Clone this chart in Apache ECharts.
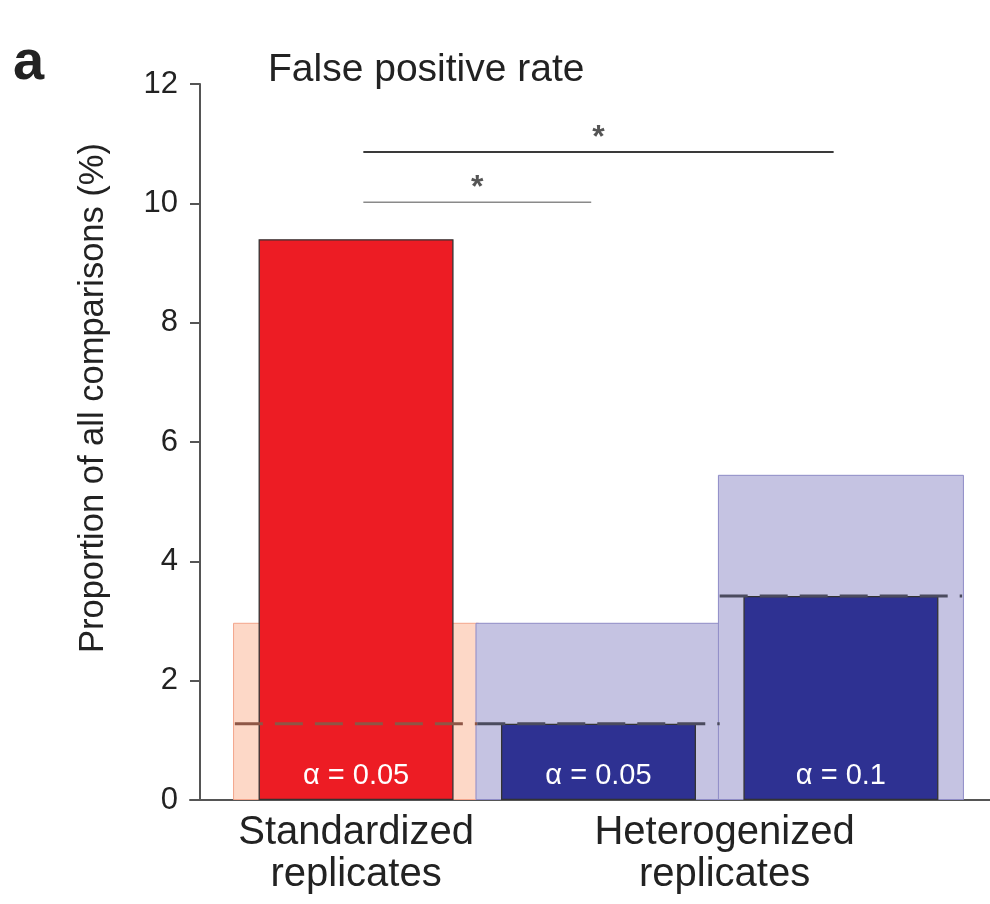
<!DOCTYPE html>
<html><head><meta charset="utf-8">
<script src="https://cdn.jsdelivr.net/npm/echarts@6/dist/echarts.min.js"></script>
<style>html,body{margin:0;padding:0;background:#fff}#c{width:990px;height:904px}</style>
</head><body><div id="c"></div>
<script>
// ---- data ----
const categoryPos = [1, 2, 3];
const observedRate = [9.4, 1.28, 3.42];
const expectedUpper = [2.97, 2.97, 5.45];
const expectedRate = [1.28, 1.28, 3.42];
const alphaLabels = ['α = 0.05', 'α = 0.05', 'α = 0.1'];
const groupLabels = ['Standardized\nreplicates', 'Heterogenized\nreplicates'];
const groupLabelPos = [1, 2.52];
const yTicks = [0, 2, 4, 6, 8, 10, 12];
const sigFrom = [1, 1];
const sigTo = [3, 2];
const sigLevel = [10.86, 10.02];
const sigMarks = ['*', '*'];

// ---- styles ----
const FONT = '"Liberation Sans", Arial, Helvetica, sans-serif';
const fgColors = ['#ED1C24', '#2E3192', '#2E3192'];
const bgColors = ['#FDD8C7', '#C5C3E2', '#C5C3E2'];
const bgBorders = ['#F3A58C', '#8E8BC6', '#8E8BC6'];
const dashColors = ['#8E5646', '#4B4B5E', '#4B4B5E'];
const sigColors = ['#3a3a3a', '#8a8a8a'];
const sigWidths = [2, 1.5];

const chart = echarts.init(document.getElementById('c'), null, {renderer: 'canvas'});

const series = [];
series.push({
  type: 'bar', xAxisIndex: 1, yAxisIndex: 0, barWidth: 246, z: 1,
  data: categoryPos.map((p, i) => ({
    value: [p, expectedUpper[i]],
    itemStyle: {color: bgColors[i], borderColor: bgBorders[i], borderWidth: 1}
  })),
  silent: true, animation: false
});
series.push({
  type: 'bar', xAxisIndex: 0, yAxisIndex: 0, barWidth: 195, z: 2,
  data: categoryPos.map((p, i) => ({
    value: [p, observedRate[i]],
    itemStyle: {color: fgColors[i], borderColor: '#333', borderWidth: 1.3}
  })),
  label: {
    show: true, position: 'insideBottom', distance: 10,
    formatter: (pr) => alphaLabels[pr.dataIndex],
    color: '#fff', fontSize: 29, fontFamily: FONT
  },
  silent: true, animation: false
});
categoryPos.forEach((p, i) => {
  series.push({
    type: 'line', xAxisIndex: 0, yAxisIndex: 0, z: 4, symbol: 'none',
    data: [[p - 0.5, expectedRate[i]], [p + 0.5, expectedRate[i]]],
    lineStyle: {color: dashColors[i], width: 3, type: [28, 12]},
    silent: true, animation: false
  });
});
sigFrom.forEach((f, i) => {
  series.push({
    type: 'line', xAxisIndex: 0, yAxisIndex: 0, z: 4, symbol: 'none',
    data: [[f + 0.03, sigLevel[i]], [sigTo[i] - 0.03, sigLevel[i]]],
    lineStyle: {color: sigColors[i], width: sigWidths[i]},
    silent: true, animation: false
  });
  series.push({
    type: 'scatter', xAxisIndex: 0, yAxisIndex: 0, z: 4, symbolSize: 0,
    data: [[(f + sigTo[i]) / 2, sigLevel[i]]],
    label: {show: true, position: 'top', distance: -2, formatter: sigMarks[i],
      fontSize: 32, fontWeight: 'bold', color: '#2a2a2a', fontFamily: FONT},
    silent: true, animation: false
  });
});

const option = {
  backgroundColor: '#fff',
  animation: false,
  title: [
    {text: 'a', left: 13, top: 36, padding: 0,
      textStyle: {fontSize: 56, fontWeight: 'bold', color: '#222', fontFamily: FONT}},
    {text: 'False positive rate', left: 268, top: 51, padding: 0,
      textStyle: {fontSize: 39, fontWeight: 'normal', color: '#222', fontFamily: FONT}}
  ],
  grid: {left: 190, right: 0, top: 84, bottom: 104, containLabel: false},
  xAxis: [
    {type: 'value', min: 0.315, max: 3.615, position: 'bottom',
      axisLine: {show: true, lineStyle: {color: '#555', width: 2}},
      axisTick: {show: false}, splitLine: {show: false},
      axisLabel: {customValues: groupLabelPos, margin: 12,
        formatter: (v) => { const k = groupLabelPos.indexOf(v); return k >= 0 ? groupLabels[k] : ''; },
        fontSize: 40, lineHeight: 42, color: '#222', fontFamily: FONT}},
    {type: 'value', min: 0.315, max: 3.615, show: false}
  ],
  yAxis: [{
    type: 'value', min: yTicks[0], max: yTicks[yTicks.length - 1], interval: yTicks[1] - yTicks[0],
    offset: -10,
    axisLine: {show: true, lineStyle: {color: '#555', width: 2}},
    axisTick: {show: true, length: 10, lineStyle: {color: '#555', width: 2}},
    axisLabel: {fontSize: 31, color: '#222', margin: 22, fontFamily: FONT},
    splitLine: {show: false}
  }],
  graphic: [{
    type: 'text', x: 93, y: 398, rotation: Math.PI / 2,
    style: {text: 'Proportion of all comparisons (%)', fontSize: 34.5, fill: '#222',
      fontFamily: FONT, align: 'center', verticalAlign: 'middle'}
  }],
  series: series
};
chart.setOption(option);
</script>
</body></html>
